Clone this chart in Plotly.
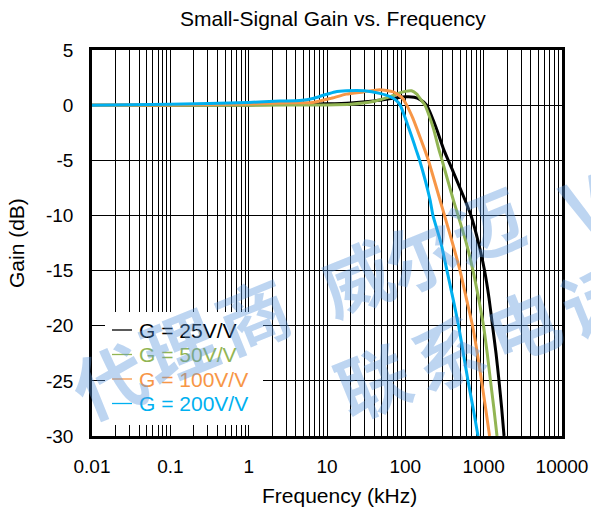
import plotly.graph_objects as go

# ---- data (frequency in kHz, gain in dB) ----
f_25 = [0.01, 0.1, 1, 5, 10, 20, 40, 60, 80, 100, 130, 155, 187, 246, 312, 406, 578, 689, 860, 1026, 1170, 1297, 1438, 1570, 1699, 1820]
g_25 = [0, 0, 0.02, 0.08, 0.12, 0.2, 0.38, 0.55, 0.68, 0.75, 0.72, 0.5, 0, -2, -4.1, -6, -8.6, -10, -12.5, -15, -17.5, -20, -22.5, -25, -27.5, -30]

f_50 = [0.01, 1, 10, 20, 40, 60, 80, 100, 120, 140, 160, 178, 200, 230, 265, 300, 410, 471, 600, 731, 860, 995, 1110, 1222, 1350, 1480]
g_50 = [0, 0, 0.02, 0.08, 0.35, 0.7, 1.05, 1.25, 1.3, 1.0, 0.45, 0, -0.9, -2.2, -3.9, -5.2, -8.6, -10, -12.5, -15, -17.5, -20, -22.5, -25, -27.5, -30]

f_100 = [0.01, 0.1, 1, 2.5, 6.6, 11, 17.7, 29, 47, 70, 90, 104, 125, 145, 178, 197, 277, 316, 400, 499, 600, 721, 830, 940, 1060, 1189]
g_100 = [0, 0.02, 0.1, 0.2, 0.25, 0.6, 1.0, 1.2, 1.4, 1.2, 0.7, 0, -1.2, -2.4, -4.1, -5, -8.6, -10, -12.5, -15, -17.5, -20, -22.5, -25, -27.5, -30]

f_200 = [0.01, 0.1, 1, 2.5, 4.5, 6.6, 9, 12.6, 17.7, 30, 47, 65, 77, 86, 99, 120, 138, 152, 207, 225, 285, 340, 405, 478, 550, 631, 735, 847]
g_200 = [0, 0.08, 0.25, 0.37, 0.42, 0.6, 0.9, 1.2, 1.3, 1.3, 1.07, 0.75, 0.4, 0, -1.1, -2.8, -4.1, -5, -8.6, -10, -12.5, -15, -17.5, -20, -22.5, -25, -27.5, -30]

series_names = ["G = 25V/V", "G = 50V/V", "G = 100V/V", "G = 200V/V"]
series_colors = ["#000000", "#92B553", "#F79646", "#00B0F0"]
series_x = [f_25, f_50, f_100, f_200]
series_y = [g_25, g_50, g_100, g_200]

x_tick_vals = [0.01, 0.1, 1, 10, 100, 1000, 10000]
x_tick_text = ["0.01", "0.1", "1", "10", "100", "1000", "10000"]
y_tick_vals = [5, 0, -5, -10, -15, -20, -25, -30]
y_tick_text = ["5", "0", "-5", "-10", "-15", "-20", "-25", "-30"]

minor_vals = [k * 10 ** d for d in range(-2, 4) for k in range(2, 10)]

FONT = "Liberation Sans, Arial, sans-serif"

# plot area in pixels (for placing paper-referenced layout items)
L, R, T, B = 92, 562, 50, 436


def px(x):
    return (x - L) / (R - L)


def py(y):
    return (B - y) / (B - T)


fig = go.Figure()
for xs, ys, c, n in zip(series_x, series_y, series_colors, series_names):
    fig.add_trace(go.Scatter(x=xs, y=ys, mode="lines", name=n, showlegend=False,
                             line=dict(color=c, width=3, shape="spline", smoothing=0.5),
                             hoverinfo="skip"))

fig.update_layout(
    width=591, height=511,
    margin=dict(l=L, r=591 - R, t=T, b=511 - B, autoexpand=False),
    paper_bgcolor="white", plot_bgcolor="white",
    font=dict(family=FONT, size=19, color="black"),
    showlegend=False,
)

fig.update_xaxes(type="log", range=[-2, 4],
                 tickvals=x_tick_vals, ticktext=x_tick_text,
                 showgrid=True, gridcolor="black", gridwidth=1,
                 minor=dict(tickvals=minor_vals, showgrid=True, gridcolor="black", gridwidth=1, ticks=""),
                 showline=True, linecolor="black", linewidth=2.5, mirror=True,
                 ticks="", ticklabelstandoff=11, zeroline=False, automargin=False,
                 tickfont=dict(size=19))
fig.update_yaxes(range=[-30, 5], tickvals=y_tick_vals, ticktext=y_tick_text,
                 showgrid=True, gridcolor="black", gridwidth=1,
                 showline=True, linecolor="black", linewidth=2.5, mirror=True,
                 ticks="", ticklabelstandoff=12, zeroline=False, automargin=False,
                 tickfont=dict(size=19))

ann = [
    dict(text="Small-Signal Gain vs. Frequency", x=px(333), y=py(19)),
    dict(text="Frequency (kHz)", x=px(339), y=py(495)),
    dict(text="Gain (dB)", x=px(16), y=py(243), textangle=-90),
]
for a in ann:
    a.update(xref="paper", yref="paper", showarrow=False, xanchor="center", yanchor="middle",
             font=dict(size=21, family=FONT, color="black"))

# legend (white box, short sample lines, coloured labels)
shapes = [dict(type="rect", xref="paper", yref="paper", x0=px(105), x1=px(263), y0=py(425), y1=py(312),
               fillcolor="white", line=dict(width=0), layer="above")]
row_y = [330, 354.5, 379, 403.5]
for n, c, ry in zip(series_names, series_colors, row_y):
    shapes.append(dict(type="line", xref="paper", yref="paper", x0=px(112), x1=px(132), y0=py(ry), y1=py(ry),
                       line=dict(color=c, width=1.3), layer="above"))
    ann.append(dict(text=n, x=px(137), y=py(ry), xref="paper", yref="paper", showarrow=False,
                    xanchor="left", yanchor="middle", font=dict(size=21, family=FONT, color=c)))

# watermark characters (pixel centre positions)
wm_chars = ["代", "理", "商", "威", "尔", "迈", "V", "联", "系", "电", "话"]
wm_px = [(108, 378), (178, 343), (252, 312), (355, 275), (420, 252), (486, 222), (585, 200),
         (372, 378), (447, 350), (522, 322), (597, 296)]
for ch, (x, y) in zip(wm_chars, wm_px):
    ann.append(dict(text=ch, x=px(x), y=py(y), xref="paper", yref="paper", showarrow=False,
                    xanchor="center", yanchor="middle", textangle=-22,
                    font=dict(size=72, family="Noto Sans CJK SC", weight="bold",
                              color="rgba(90,150,220,0.40)")))

fig.update_layout(annotations=ann, shapes=shapes)

fig.write_html("out.html", config={"displayModeBar": False},
               post_script="document.body.style.margin='0px';")
